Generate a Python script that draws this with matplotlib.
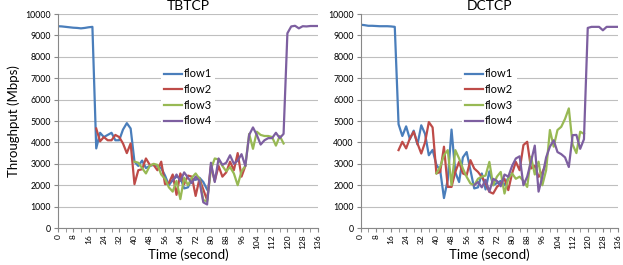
import numpy as np
import matplotlib
matplotlib.use('Agg')
import matplotlib.pyplot as plt
from matplotlib.ticker import MultipleLocator, FixedLocator

plt.rcParams['font.family'] = ['Lato', 'DejaVu Sans']

# sample times every 2 s; each flow has its own start time
flow_starts = [0, 20, 40, 60]
flow_names = ['flow1', 'flow2', 'flow3', 'flow4']
flow_colors = ['#4A7EBB', '#BE4B48', '#98B954', '#7D5FA0']

# TBTCP throughput (Mbps)
tb_flow1 = [9430, 9420, 9400, 9380, 9360, 9350, 9330, 9350, 9380, 9400,
            3720, 4450, 4250, 4350, 4450, 4100, 4100, 4600, 4900, 4650,
            3100, 2900, 3150, 2800, 2900, 2950, 2900, 2800, 2450, 2000,
            2250, 2400, 2350, 1850, 1900, 2300, 2250, 2350, 2150, 1800]
tb_flow2 = [4650, 4050, 4250, 4100, 4100, 4350, 4250, 3950, 3500, 3950,
            2050, 2700, 2750, 3250, 2950, 2950, 2700, 3100, 2050, 2100,
            2500, 1550, 2550, 2050, 2450, 2400, 1500, 2300, 1800, 1300,
            2900, 2200, 2900, 2400, 2600, 3100, 2700, 3500, 2400, 2900]
tb_flow3 = [3100, 3050, 2800, 2550, 2900, 3000, 2950, 2500, 2300, 1900,
            1700, 2200, 1350, 2350, 2000, 2350, 2550, 2300, 1300, 1250,
            2750, 3250, 3200, 2900, 2650, 2850, 2550, 2000, 2650, 2900,
            4400, 3700, 4500, 4350, 4300, 4300, 4250, 3850, 4300, 3950]
tb_flow4 = [2200, 2500, 2200, 2600, 2350, 2100, 2400, 2200, 1200, 1100,
            3050, 2150, 3250, 2950, 3050, 3400, 3000, 3150, 3450, 2900,
            4350, 4700, 4350, 3900, 4100, 4200, 4200, 4450, 4200, 4400,
            9100, 9420, 9450, 9330, 9430, 9420, 9440, 9440, 9440]

# DCTCP throughput (Mbps)
dc_flow1 = [9500, 9480, 9450, 9450, 9440, 9430, 9430, 9430, 9420, 9400,
            4850, 4300, 4750, 4150, 4550, 3900, 4800, 4400, 3400, 3650,
            2950, 2700, 1400, 2250, 4600, 2600, 2150, 3300, 3550, 2700,
            1850, 1900, 2550, 1800, 2650, 2000, 2100, 2200, 2000, 2350]
dc_flow2 = [3640, 4030, 3720, 4190, 4500, 3950, 3480, 4000, 4950, 4700,
            2550, 2620, 3800, 1920, 1920, 2620, 3090, 2550, 2470, 3170,
            2780, 2620, 2390, 2100, 1690, 1610, 1920, 2080, 2300, 1770,
            2550, 3090, 2700, 3875, 4030, 2780, 2900, 2390, 2600, 3020]
dc_flow3 = [2550, 2860, 3400, 3640, 2000, 3640, 3250, 2780, 2390, 2080,
            2000, 2300, 2400, 2450, 3090, 2000, 2400, 2620, 1610, 2300,
            2550, 2300, 2400, 2200, 1920, 3330, 2500, 3100, 2000, 2700,
            4580, 3800, 4580, 4730, 5100, 5590, 3900, 3500, 4500, 4400]
dc_flow4 = [2000, 2150, 1900, 2250, 1700, 2300, 2200, 1950, 2500, 2400,
            2900, 3250, 3350, 2000, 2400, 3100, 3850, 1700, 2400, 3300,
            3800, 4100, 3550, 3450, 3300, 2850, 4340, 4350, 3700, 4150,
            9350, 9400, 9400, 9400, 9240, 9400, 9400, 9400, 9400]

titles = ['TBTCP', 'DCTCP']
all_flows = [[tb_flow1, tb_flow2, tb_flow3, tb_flow4],
             [dc_flow1, dc_flow2, dc_flow3, dc_flow4]]

fig = plt.figure(figsize=(6.23, 2.65), dpi=100)
ax_left = fig.add_axes([0.0931, 0.1396, 0.4173, 0.8075])
ax_right = fig.add_axes([0.579, 0.1396, 0.413, 0.8075])

for ax, title, flows in zip([ax_left, ax_right], titles, all_flows):
    for vals, start, name, col in zip(flows, flow_starts, flow_names, flow_colors):
        t = start + 2 * np.arange(len(vals))
        ax.plot(t, vals, color=col, lw=1.6, label=name, solid_joinstyle='round')

    ax.set_xlim(0, 136)
    ax.set_ylim(0, 10000)
    ax.xaxis.set_major_locator(MultipleLocator(8))
    ax.xaxis.set_minor_locator(FixedLocator(np.arange(4, 137, 8)))
    ax.yaxis.set_major_locator(MultipleLocator(1000))
    ax.tick_params(axis='x', which='both', rotation=90, labelsize=6, length=3,
                   color='#888888', pad=1.5)
    ax.tick_params(axis='y', labelsize=6.3, length=3, color='#888888', pad=2)

    ax.grid(axis='y', color='#BFBFBF', lw=0.8)
    ax.set_axisbelow(True)
    for s in ['top', 'right']:
        ax.spines[s].set_visible(False)
    for s in ['left', 'bottom']:
        ax.spines[s].set_color('#888888')
        ax.spines[s].set_linewidth(0.8)

    ax.set_title(title, fontsize=10, pad=3)
    ax.set_xlabel('Time (second)', fontsize=9.5, labelpad=0)

    leg = ax.legend(loc='center', bbox_to_anchor=(0.5, 0.61), fontsize=8,
                    frameon=True, fancybox=False, edgecolor='none',
                    facecolor='white', framealpha=1, handlelength=1.6,
                    handletextpad=0.2, labelspacing=0.42, borderpad=0.3)

ax_left.set_ylabel('Throughput (Mbps)', fontsize=9.5, labelpad=4)

fig.savefig('out.png', dpi=100)
